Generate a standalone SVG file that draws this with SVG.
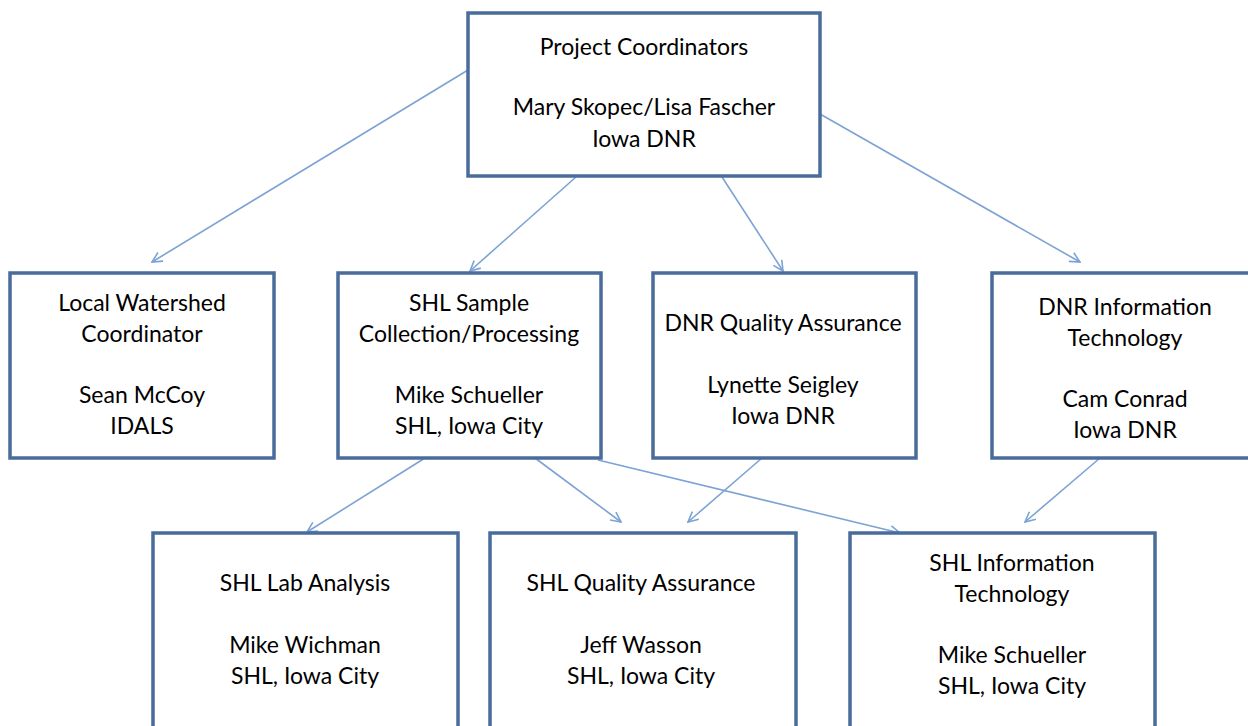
<svg xmlns="http://www.w3.org/2000/svg" width="1248" height="726" viewBox="0 0 1248 726">
<style>
.box{fill:#fff;stroke:#4A6C9B;stroke-width:3.5}
.t{font-family:"Lato","Liberation Sans",sans-serif;font-size:23px;fill:#000;text-anchor:middle}
.c{fill:none;stroke:#7CA3D4;stroke-width:1.6}
</style>
<defs>
<marker id="ah" viewBox="0 0 12 12" refX="11" refY="6" markerWidth="12" markerHeight="12" markerUnits="userSpaceOnUse" orient="auto">
<path d="M1,1 L11,6 L1,11" fill="none" stroke="#7CA3D4" stroke-width="1.6"/>
</marker>
</defs>
<rect width="1248" height="726" fill="#fff"/>
<g id="connectors">
<line class="c" x1="468" y1="70" x2="152" y2="262" marker-end="url(#ah)"/>
<line class="c" x1="576" y1="177" x2="470" y2="271" marker-end="url(#ah)"/>
<line class="c" x1="722" y1="177" x2="783" y2="271" marker-end="url(#ah)"/>
<line class="c" x1="820" y1="114" x2="1080" y2="262" marker-end="url(#ah)"/>
<line class="c" x1="425" y1="458" x2="307" y2="532" marker-end="url(#ah)"/>
<line class="c" x1="535" y1="458" x2="621" y2="522" marker-end="url(#ah)"/>
<line class="c" x1="598" y1="460" x2="900" y2="533" marker-end="url(#ah)"/>
<line class="c" x1="762" y1="458" x2="688" y2="522" marker-end="url(#ah)"/>
<line class="c" x1="1100" y1="458" x2="1025" y2="522" marker-end="url(#ah)"/>
</g>
<g id="project-coordinators">
<rect class="box" x="468" y="13" width="352" height="163"/>
<text class="t" x="644" y="55">Project Coordinators</text>
<text class="t" x="644" y="115">Mary Skopec/Lisa Fascher</text>
<text class="t" x="644" y="147">Iowa DNR</text>
</g>
<g id="local-watershed">
<rect class="box" x="10" y="273" width="264" height="185"/>
<text class="t" x="142" y="311">Local Watershed</text>
<text class="t" x="142" y="342">Coordinator</text>
<text class="t" x="142" y="403">Sean McCoy</text>
<text class="t" x="142" y="434">IDALS</text>
</g>
<g id="shl-sample">
<rect class="box" x="338" y="273" width="263" height="185"/>
<text class="t" x="469" y="311">SHL Sample</text>
<text class="t" x="469" y="342">Collection/Processing</text>
<text class="t" x="469" y="403">Mike Schueller</text>
<text class="t" x="469" y="434">SHL, Iowa City</text>
</g>
<g id="dnr-qa">
<rect class="box" x="653" y="273" width="263" height="185"/>
<text class="t" x="783" y="331">DNR Quality Assurance</text>
<text class="t" x="783" y="393">Lynette Seigley</text>
<text class="t" x="783" y="424">Iowa DNR</text>
</g>
<g id="dnr-it">
<rect class="box" x="992" y="273" width="264" height="185"/>
<text class="t" x="1125" y="315">DNR Information</text>
<text class="t" x="1125" y="346">Technology</text>
<text class="t" x="1125" y="407">Cam Conrad</text>
<text class="t" x="1125" y="438">Iowa DNR</text>
</g>
<g id="shl-lab">
<rect class="box" x="153" y="533" width="305" height="205"/>
<text class="t" x="305" y="591">SHL Lab Analysis</text>
<text class="t" x="305" y="653">Mike Wichman</text>
<text class="t" x="305" y="684">SHL, Iowa City</text>
</g>
<g id="shl-qa">
<rect class="box" x="490" y="533" width="306" height="205"/>
<text class="t" x="641" y="591">SHL Quality Assurance</text>
<text class="t" x="641" y="653">Jeff Wasson</text>
<text class="t" x="641" y="684">SHL, Iowa City</text>
</g>
<g id="shl-it">
<rect class="box" x="850" y="533" width="305" height="205"/>
<text class="t" x="1012" y="571">SHL Information</text>
<text class="t" x="1012" y="602">Technology</text>
<text class="t" x="1012" y="663">Mike Schueller</text>
<text class="t" x="1012" y="694">SHL, Iowa City</text>
</g>
</svg>
